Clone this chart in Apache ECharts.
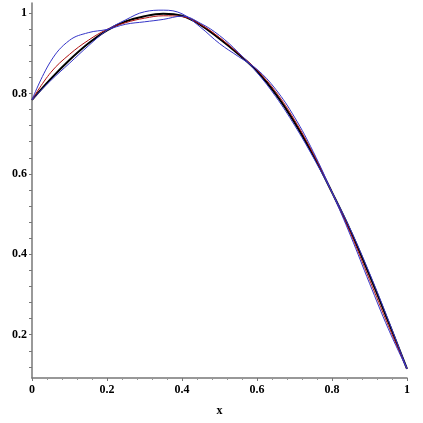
<!DOCTYPE html>
<html>
<head>
<meta charset="utf-8">
<script src="https://cdn.jsdelivr.net/npm/echarts@6/dist/echarts.min.js"></script>
<style>
  html, body { margin: 0; padding: 0; background: #fff; }
  #main { width: 423px; height: 423px; }
</style>
</head>
<body>
<div id="main"></div>
<script>
// x positions of the sampled points
var xs = [0, 0.05, 0.1, 0.15, 0.2, 0.25, 0.3, 0.35, 0.4, 0.45, 0.5,
          0.55, 0.6, 0.65, 0.7, 0.75, 0.8, 0.85, 0.9, 0.95, 1];
// exact curve (thick black)
var exact = [0.784, 0.836, 0.883, 0.924, 0.957, 0.979, 0.992, 0.998, 0.993, 0.970, 0.936,
             0.898, 0.855, 0.798, 0.728, 0.646, 0.554, 0.457, 0.348, 0.233, 0.115];
// red approximation
var approxRed = [0.784, 0.852, 0.897, 0.932, 0.959, 0.976, 0.987, 0.993, 0.991, 0.971, 0.939,
                 0.900, 0.858, 0.804, 0.734, 0.650, 0.554, 0.451, 0.337, 0.223, 0.115];
// blue approximations
var approxBlue1 = [0.784, 0.880, 0.932, 0.951, 0.959, 0.972, 0.978, 0.984, 0.992, 0.974, 0.944,
                   0.902, 0.852, 0.792, 0.721, 0.641, 0.554, 0.460, 0.353, 0.237, 0.115];
var approxBlue2 = [0.784, 0.832, 0.875, 0.918, 0.957, 0.983, 1.003, 1.007, 0.998, 0.964, 0.924,
                   0.892, 0.860, 0.810, 0.741, 0.655, 0.554, 0.445, 0.328, 0.215, 0.115];

var xTicks = [0, 0.2, 0.4, 0.6, 0.8, 1];
var yLabels = [0.2, 0.4, 0.6, 0.8, 1];
var yTicks = [0.12, 0.16, 0.2, 0.24, 0.28, 0.32, 0.36, 0.4, 0.44, 0.48, 0.52, 0.56, 0.6,
              0.64, 0.68, 0.72, 0.76, 0.8, 0.84, 0.88, 0.92, 0.96, 1];

function pairs(ys) {
    return xs.map(function (x, i) { return [x, ys[i]]; });
}

var labelFont = {
    fontFamily: 'Liberation Serif',
    fontWeight: 'bold',
    fontSize: 12,
    color: '#000'
};

var axisGray = '#777';

var chart = echarts.init(document.getElementById('main'));

function curve(ys, color, width, z) {
    return {
        type: 'line',
        data: pairs(ys),
        showSymbol: false,
        smooth: 0.4,
        lineStyle: { color: color, width: width },
        z: z
    };
}

var option = {
    animation: false,
    backgroundColor: '#fff',
    grid: { left: 32, right: 16, top: 3, bottom: 45, containLabel: false },
    xAxis: {
        type: 'value',
        min: 0,
        max: 1,
        interval: 0.2,
        name: 'x',
        nameLocation: 'middle',
        nameGap: 27,
        nameTextStyle: labelFont,
        axisLine: { show: true, onZero: false, lineStyle: { color: axisGray, width: 1.5 } },
        axisTick: { show: true, length: 3, lineStyle: { color: axisGray } },
        minorTick: { show: true, splitNumber: 5, length: 2, lineStyle: { color: '#999' } },
        axisLabel: Object.assign({ margin: 6 }, labelFont, {
            customValues: xTicks,
            formatter: function (v) { return String(v); }
        }),
        splitLine: { show: false }
    },
    yAxis: {
        type: 'value',
        min: 0.0924,
        max: 1.0248,
        axisLine: { show: true, onZero: false, lineStyle: { color: axisGray, width: 1.5 } },
        axisTick: { show: true, length: 3, customValues: yTicks, lineStyle: { color: axisGray } },
        axisLabel: Object.assign({ margin: 5 }, labelFont, {
            customValues: yLabels,
            formatter: function (v) { return String(v); }
        }),
        splitLine: { show: false }
    },
    series: [
        curve(exact, '#000', 2, 2),
        curve(approxRed, '#b01010', 1, 3),
        curve(approxBlue1, '#3535c8', 1, 4),
        curve(approxBlue2, '#3535c8', 1, 4)
    ]
};

chart.setOption(option);
</script>
</body>
</html>
